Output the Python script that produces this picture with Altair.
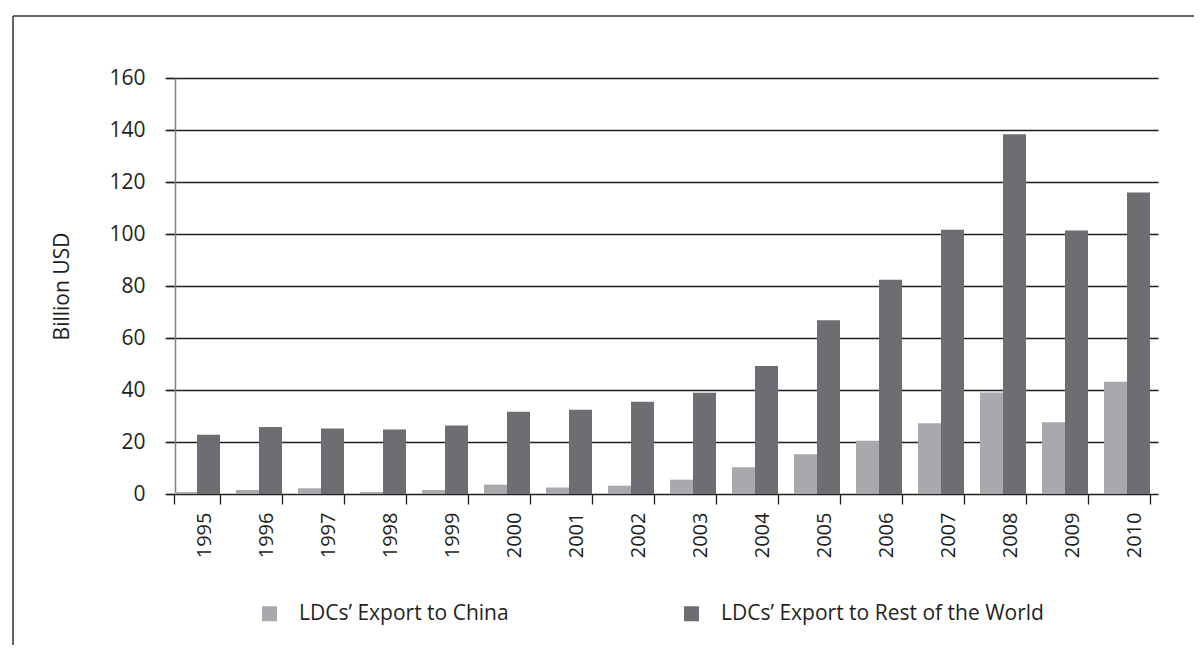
import altair as alt
import pandas as pd

years = [str(y) for y in range(1995, 2011)]
china = [0.8, 1.5, 2.2, 0.8, 1.5, 3.6, 2.5, 3.2, 5.5, 10.3, 15.3, 20.5, 27.2, 39.0, 27.6, 43.2]
rest = [22.8, 25.8, 25.2, 24.8, 26.3, 31.6, 32.4, 35.5, 38.9, 49.2, 66.8, 82.4, 101.6, 138.4, 101.3, 116.0]
series = ["LDCs\u2019 Export to China", "LDCs\u2019 Export to Rest of the World"]
colors = ["#a7a9ac", "#6d6e71"]
y_ticks = [0, 20, 40, 60, 80, 100, 120, 140, 160]

rows = []
for i, yr in enumerate(years):
    rows.append({"year": yr, "series": series[0], "value": china[i]})
    rows.append({"year": yr, "series": series[1], "value": rest[i]})
df = pd.DataFrame(rows)

FONT = "Open Sans"
TXT = "#231f20"

W, H = 988, 416

bars = alt.Chart(df).mark_bar(clip=True).encode(
    x=alt.X("year:N", sort=years,
            scale=alt.Scale(range=[-9, 983], paddingInner=16/62, paddingOuter=8/62),
            axis=alt.Axis(title=None, labelAngle=-90, labelFont=FONT, labelFontSize=20,
                          labelColor=TXT, domain=False, tickBand="extent", tickSize=10,
                          tickColor=TXT, tickWidth=1.3, labelPadding=8, labelOffset=7)),
    xOffset=alt.XOffset("series:N", sort=series, scale=alt.Scale(paddingInner=0, paddingOuter=0)),
    y=alt.Y("value:Q", scale=alt.Scale(domain=[0, 160], nice=False),
            axis=alt.Axis(values=y_ticks, title="Billion USD", titleFont=FONT,
                          titleFontSize=21, titleFontWeight="normal", titleColor=TXT,
                          titlePadding=36, labelFont=FONT, labelFontSize=21,
                          labelColor=TXT, labelPadding=20, tickSize=10, tickColor=TXT,
                          tickWidth=1.3, grid=True, gridColor=TXT, gridWidth=1.3,
                          domainColor="#808080", domainWidth=1.5)),
    color=alt.Color("series:N", sort=series,
                    scale=alt.Scale(domain=series, range=colors),
                    legend=alt.Legend(title=None, orient="none", legendX=84, legendY=525,
                                      direction="horizontal", columns=2, gridAlign="all",
                                      columnPadding=59, symbolType="square", symbolSize=225,
                                      symbolStrokeWidth=0, labelFont=FONT, labelFontSize=21,
                                      labelColor=TXT, labelOffset=19, labelLimit=500)),
)

frame_df = pd.DataFrame({"k": [0]})
top_line = alt.Chart(frame_df).mark_rule(color="#333333", strokeWidth=1.5).encode(
    x=alt.value(-162), x2=alt.value(1200), y=alt.value(-62))
left_line = alt.Chart(frame_df).mark_rule(color="#333333", strokeWidth=1.5).encode(
    x=alt.value(-162), y=alt.value(-62), y2=alt.value(700))

chart = alt.layer(bars, top_line, left_line).properties(
    width=W, height=H,
    background="white",
    padding={"left": 167, "top": 70, "right": 31, "bottom": 151},
    autosize=alt.AutoSizeParams(type="none"),
).configure_view(strokeWidth=0, stroke="transparent")

chart.save("out.html", embed_options={"renderer": "svg", "actions": False})
